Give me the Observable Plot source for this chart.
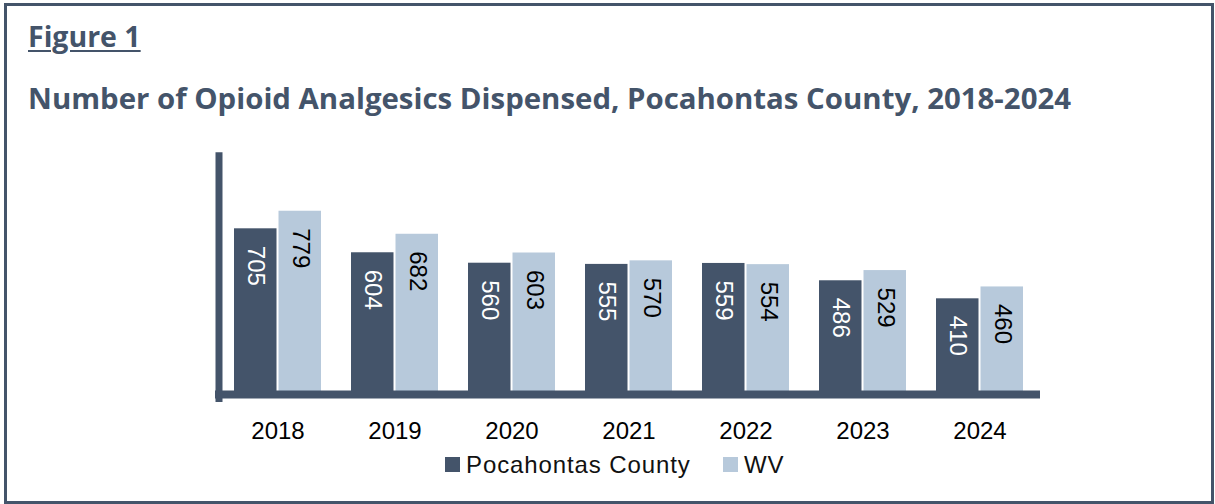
<!DOCTYPE html>
<html>
<head>
<meta charset="utf-8">
<script src="https://cdn.jsdelivr.net/npm/d3@7"></script>
<script src="https://cdn.jsdelivr.net/npm/@observablehq/plot@0.6"></script>
<style>
  html, body { margin: 0; padding: 0; background: #fff; }
  #page { position: relative; width: 1215px; height: 504px; overflow: hidden; background: #fff; }
  #border { position: absolute; left: 4px; top: 3px; width: 1210px; height: 501px; box-sizing: border-box; border: 3px solid #44546A; }
  .fig { position: absolute; left: 28px; top: 22px; font-family: "Open Sans", sans-serif; font-weight: 700; font-size: 28.5px; line-height: 29px; color: #44546A; text-decoration: underline; text-decoration-thickness: 2px; text-underline-offset: 3px; white-space: nowrap; }
  .title { position: absolute; left: 28px; top: 84px; font-family: "Open Sans", sans-serif; font-weight: 700; font-size: 29.4px; line-height: 29px; color: #44546A; white-space: nowrap; }
  #chart { position: absolute; left: 0; top: 140px; }
  #chart svg text { font-family: "Liberation Sans", Arial, sans-serif; }
  #legend { position: absolute; top: 451px; left: 0; width: 1215px; height: 28px; font-family: "Liberation Sans", Arial, sans-serif; font-size: 24px; color: #111; }
  .sw { position: absolute; top: 6px; width: 15px; height: 15px; }
  .lt { position: absolute; top: 0; line-height: 28px; letter-spacing: 0.9px; white-space: nowrap; }
</style>
</head>
<body>
<div id="page">
  <div id="border"></div>
  <div class="fig">Figure 1</div>
  <div class="title">Number of Opioid Analgesics Dispensed, Pocahontas County, 2018-2024</div>
  <div id="chart"></div>
  <div id="legend"></div>
</div>
<script>
const years = ["2018", "2019", "2020", "2021", "2022", "2023", "2024"];
const seriesNames = ["Pocahontas County", "WV"];
const pocahontas = [705, 604, 560, 555, 559, 486, 410];
const wv = [779, 682, 603, 570, 554, 529, 460];
const colors = ["#44546A", "#B7C9DB"];
const labelColors = ["#ffffff", "#000000"];

const table = [];
years.forEach((y, i) => {
  table.push({year: y, series: seriesNames[0], value: pocahontas[i]});
  table.push({year: y, series: seriesNames[1], value: wv[i]});
});
const s0 = table.filter(d => d.series === seriesNames[0]);
const s1 = table.filter(d => d.series === seriesNames[1]);

const W = 1215, H = 364;
const mL = 217, mR = 175, mT = 18.3, mB = 108.4;
const padIn = 0.26, padOut = 0.13;
const step = (W - mL - mR) / (years.length - padIn + 2 * padOut);
const bw = step * (1 - padIn);
const gap = 2;
const half = bw / 2 + gap / 2;
const off = (bw - gap) / 4 + gap / 2;

const chart = Plot.plot({
  width: W,
  height: H,
  marginLeft: mL,
  marginRight: mR,
  marginTop: mT,
  marginBottom: mB,
  x: {domain: years, paddingInner: padIn, paddingOuter: padOut, axis: null},
  y: {domain: [0, 1000], axis: null},
  color: {domain: seriesNames, range: colors},
  style: {background: "transparent", overflow: "visible"},
  marks: [
    Plot.barY(s0, {x: "year", y: "value", fill: "series", insetRight: half}),
    Plot.barY(s1, {x: "year", y: "value", fill: "series", insetLeft: half}),
    Plot.text(s0, {x: "year", y: "value", text: d => String(d.value), rotate: 90, textAnchor: "start", dx: -off, dy: 17, fill: labelColors[0], fontSize: 24}),
    Plot.text(s1, {x: "year", y: "value", text: d => String(d.value), rotate: 90, textAnchor: "start", dx: off, dy: 17, fill: labelColors[1], fontSize: 24}),
    Plot.ruleY([0], {stroke: colors[0], strokeWidth: 8, dy: -1.5, insetLeft: -2}),
    Plot.frame({anchor: "left", stroke: colors[0], strokeWidth: 7, dx: 1.5, insetTop: -3, insetBottom: -2.5}),
    Plot.axisX({anchor: "bottom", tickSize: 0, tickPadding: 26, fontSize: 24, fill: "#000", label: null})
  ]
});
document.getElementById("chart").appendChild(chart);

// Legend built from the series arrays
const legend = document.getElementById("legend");
const legendX = [445, 723];
seriesNames.forEach((name, i) => {
  const sw = document.createElement("div");
  sw.className = "sw";
  sw.style.left = legendX[i] + "px";
  sw.style.background = colors[i];
  legend.appendChild(sw);
  const t = document.createElement("div");
  t.className = "lt";
  t.style.left = (legendX[i] + 21) + "px";
  t.textContent = name;
  legend.appendChild(t);
});
</script>
</body>
</html>
